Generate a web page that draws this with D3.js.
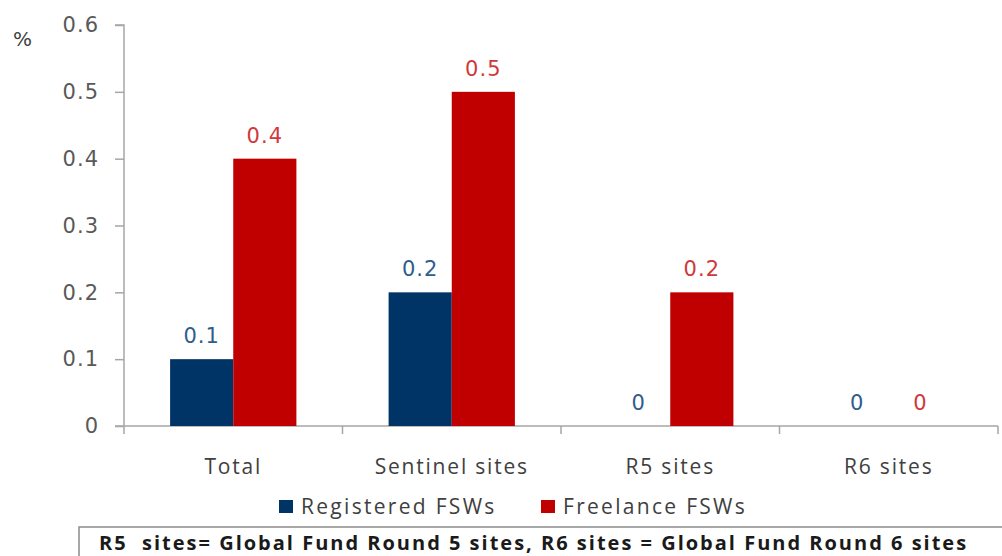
<!DOCTYPE html>
<html lang="en">
<head>
<meta charset="UTF-8">
<title>Registered vs Freelance FSWs</title>
<script src="https://d3js.org/d3.v7.min.js"></script>
<style>
    body { margin: 0; background: #fff; }
    svg { display: block; }
</style>
</head>
<body>
<svg id="chart" width="1002" height="556"></svg>
<script>
// Chart data
const categories = ['Total', 'Sentinel sites', 'R5 sites', 'R6 sites'];
const seriesNames = ['Registered FSWs', 'Freelance FSWs'];
const registered = [0.1, 0.2, 0, 0];
const freelance = [0.4, 0.5, 0.2, 0];
const yTicks = [0, 0.1, 0.2, 0.3, 0.4, 0.5, 0.6];

const barColors = ['#003366', '#C00000'];
const labelColors = ['#2F5D8C', '#D0393B'];

const svg = d3.select('#chart');
const margin = { left: 124, top: 25 };
const plotRight = 998;
const plotBottom = 426;

const x = d3.scaleBand()
    .domain(categories)
    .range([margin.left, plotRight]);

const xInner = d3.scaleBand()
    .domain(seriesNames)
    .range([0, x.bandwidth()])
    .paddingInner(0)
    .paddingOuter(0.73);

const y = d3.scaleLinear()
    .domain([0, 0.6])
    .range([plotBottom, margin.top]);

// Y axis
const yAxis = svg.append('g')
    .attr('transform', `translate(${margin.left},0)`)
    .call(d3.axisLeft(y).tickValues(yTicks).tickSize(9).tickPadding(16)
        .tickFormat(d => d === 0 ? '0' : d3.format('.1f')(d)));
yAxis.select('.domain').attr('stroke', '#A6A6A6').attr('stroke-width', 1.5)
    .attr('d', `M-9,${y(0.6)}H0V${plotBottom + 8}`);
yAxis.selectAll('.tick line').attr('stroke', '#A6A6A6').attr('stroke-width', 1.5);
yAxis.selectAll('.tick text')
    .attr('fill', '#595959')
    .style('font-family', 'DejaVu Sans, sans-serif')
    .style('font-size', '21px')
    .style('letter-spacing', '1px');

// X axis
const xAxis = svg.append('g')
    .attr('transform', `translate(0,${plotBottom})`);
xAxis.append('line')
    .attr('x1', margin.left - 9).attr('x2', plotRight)
    .attr('stroke', '#A6A6A6').attr('stroke-width', 1.5);
xAxis.selectAll('.xtick')
    .data(categories.map(c => x(c) + x.bandwidth()))
    .enter().append('line')
    .attr('x1', d => d).attr('x2', d => d)
    .attr('y1', 0).attr('y2', 8)
    .attr('stroke', '#A6A6A6').attr('stroke-width', 1.5);

svg.append('g').selectAll('text')
    .data(categories)
    .enter().append('text')
    .attr('x', d => x(d) + x.bandwidth() / 2)
    .attr('y', 474)
    .attr('text-anchor', 'middle')
    .attr('fill', '#404040')
    .style('font-family', 'Open Sans, sans-serif')
    .style('font-size', '21px')
    .style('letter-spacing', '1.8px')
    .text(d => d);

// Bars
const rows = categories.map((c, i) => ({ cat: c, vals: [registered[i], freelance[i]] }));
const groups = svg.append('g').selectAll('g')
    .data(rows)
    .enter().append('g')
    .attr('transform', d => `translate(${x(d.cat)},0)`);

groups.selectAll('rect')
    .data(d => d.vals.map((v, j) => ({ v, j })))
    .enter().append('rect')
    .attr('x', d => xInner(seriesNames[d.j]))
    .attr('width', xInner.bandwidth())
    .attr('y', d => y(d.v))
    .attr('height', d => plotBottom - y(d.v))
    .attr('fill', d => barColors[d.j]);

groups.selectAll('text')
    .data(d => d.vals.map((v, j) => ({ v, j })))
    .enter().append('text')
    .attr('x', d => xInner(seriesNames[d.j]) + xInner.bandwidth() / 2)
    .attr('y', d => y(d.v) - 16)
    .attr('text-anchor', 'middle')
    .attr('fill', d => labelColors[d.j])
    .style('font-family', 'DejaVu Sans, sans-serif')
    .style('font-size', '21px')
    .style('letter-spacing', '1px')
    .text(d => d.v === 0 ? '0' : d3.format('.1f')(d.v));

// % label
svg.append('text')
    .attr('x', 13).attr('y', 46)
    .attr('fill', '#404040')
    .style('font-family', 'DejaVu Sans, sans-serif')
    .style('font-size', '20px')
    .text('%');

// Legend
const legendX = [279, 541];
const legend = svg.append('g').selectAll('g')
    .data(seriesNames)
    .enter().append('g')
    .attr('transform', (d, i) => `translate(${legendX[i]},500)`);
legend.append('rect')
    .attr('width', 14).attr('height', 13)
    .attr('fill', (d, i) => barColors[i]);
legend.append('text')
    .attr('x', 22).attr('y', 14)
    .attr('fill', '#404040')
    .style('font-family', 'Open Sans, sans-serif')
    .style('font-size', '21px')
    .style('letter-spacing', '2.3px')
    .text(d => d);

// Footnote box
svg.append('rect')
    .attr('x', 79).attr('y', 527)
    .attr('width', 940).attr('height', 40)
    .attr('fill', 'none')
    .attr('stroke', '#8C8C8C').attr('stroke-width', 1.5);
svg.append('text')
    .attr('x', 99).attr('y', 550)
    .attr('fill', '#1A1A1A')
    .style('font-family', 'Open Sans, sans-serif')
    .style('font-weight', 'bold')
    .style('font-size', '20px')
    .style('letter-spacing', '2px')
    .style('white-space', 'pre')
    .text('R5  sites= Global Fund Round 5 sites, R6 sites = Global Fund Round 6 sites');
</script>
</body>
</html>
